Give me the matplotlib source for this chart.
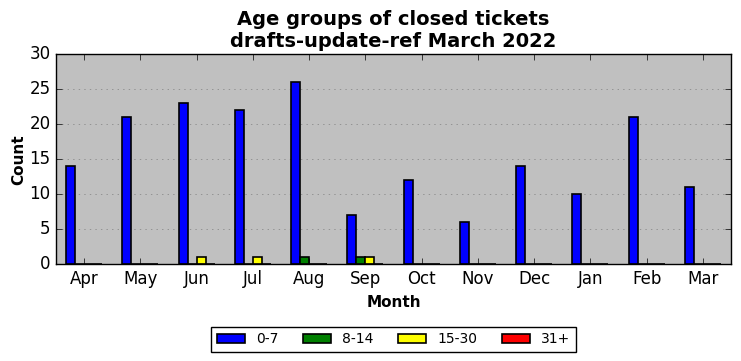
import matplotlib
matplotlib.use('Agg')
import matplotlib.pyplot as plt
import numpy as np

months = ['Apr', 'May', 'Jun', 'Jul', 'Aug', 'Sep', 'Oct', 'Nov', 'Dec', 'Jan', 'Feb', 'Mar']
age_groups = ['0-7', '8-14', '15-30', '31+']
colors = ['blue', 'green', 'yellow', 'red']

g0_7 = [14, 21, 23, 22, 26, 7, 12, 6, 14, 10, 21, 11]
g8_14 = [0, 0, 0, 0, 1, 1, 0, 0, 0, 0, 0, 0]
g15_30 = [0, 0, 1, 1, 0, 1, 0, 0, 0, 0, 0, 0]
g31 = [0, 0, 0, 0, 0, 0, 0, 0, 0, 0, 0, 0]
series = [g0_7, g8_14, g15_30, g31]

plt.style.use('classic')
fig = plt.figure(figsize=(7.41, 3.61), dpi=100)
ax = fig.add_axes([0.0756, 0.268, 0.911, 0.582])
ax.set_facecolor('#c0c0c0')

x = np.arange(len(months))
w = 0.16
for i, (vals, lab, c) in enumerate(zip(series, age_groups, colors)):
    ax.bar(x + (i - 1.5) * w, vals, w, color=c, edgecolor='black', linewidth=1.2, label=lab)

ax.set_xlim(-0.5, len(months) - 0.5)
ax.set_ylim(0, 30)
ax.set_xticks(x)
ax.set_xticklabels(months)
ax.yaxis.grid(True, linestyle=':', color='#808080')
ax.set_axisbelow(True)
ax.set_xlabel('Month', fontweight='bold', fontsize=11)
ax.set_ylabel('Count', fontweight='bold', fontsize=11, labelpad=2)
ax.set_title('Age groups of closed tickets\ndrafts-update-ref March 2022', fontweight='bold', fontsize=14)
ax.legend(loc='upper center', bbox_to_anchor=(0.5, -0.265), ncol=4, fontsize=10,
          columnspacing=1.8)

fig.savefig('out.png', dpi=100)
